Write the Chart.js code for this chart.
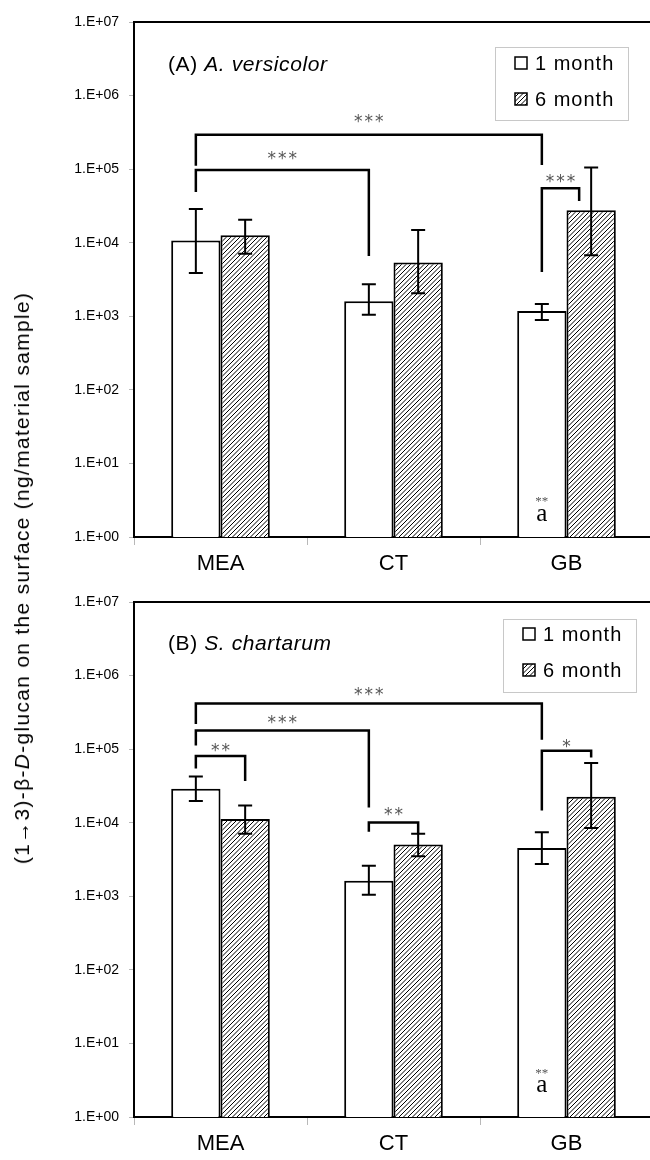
<!DOCTYPE html>
<html>
<head>
<meta charset="utf-8">
<script src="https://cdn.jsdelivr.net/npm/chart.js@4"></script>
<style>
  body { margin: 0; background: #fff; width: 650px; height: 1160px; overflow: hidden; position: relative; }
  .panel { position: absolute; left: 0; width: 656px; height: 580px; }
  #ytitle {
    position: absolute; left: 22px; top: 578px;
    transform: translate(-50%, -50%) rotate(-90deg);
    white-space: nowrap; font: 21px "Liberation Sans", Arial, sans-serif;
    letter-spacing: 1.3px; color: #000;
  }
</style>
</head>
<body>
<div class="panel" style="top:0"><canvas id="chartA" width="656" height="580"></canvas></div>
<div class="panel" style="top:580px"><canvas id="chartB" width="656" height="580"></canvas></div>
<div id="ytitle">(1→3)-β-<i>D</i>-glucan on the surface (ng/material sample)</div>

<script>
const categories = ['MEA', 'CT', 'GB'];
const seriesNames = ['1 month', '6 month'];
const yTicks = [1, 10, 100, 1e3, 1e4, 1e5, 1e6, 1e7];
const yTickLabels = ['1.E+00', '1.E+01', '1.E+02', '1.E+03', '1.E+04', '1.E+05', '1.E+06', '1.E+07'];

// (A) A. versicolor
const aMonth1 = [10700, 1600, 1180];
const aMonth6 = [12600, 5400, 27600];
const aMonth1Low = [3870, 1050, 890];
const aMonth1High = [28700, 2720, 1470];
const aMonth6Low = [7100, 2050, 6750];
const aMonth6High = [20500, 14900, 105000];

// (B) S. chartarum
const bMonth1 = [29000, 1630, 4540];
const bMonth6 = [11200, 5040, 22600];
const bMonth1Low = [19700, 1050, 2750];
const bMonth1High = [42600, 2610, 7400];
const bMonth6Low = [7100, 3490, 8500];
const bMonth6High = [17200, 7100, 64600];

// significance brackets: from/to = [category, series], y = bracket level, ends = leg ends
const aBrackets = [
  { from: [0, 0], to: [2, 0], y: 2.94e5, ends: [1.11e5, 1.14e5], text: '***', textY: 5.1e5 },
  { from: [0, 0], to: [1, 0], y: 9.7e4, ends: [4.9e4, 6.6e3], text: '***', textY: 1.6e5 },
  { from: [2, 0], to: [2, 1], y: 5.5e4, ends: [4.0e3, 3.7e4], text: '***', textY: 7.7e4, dx2: -12 }
];
const bBrackets = [
  { from: [0, 0], to: [2, 0], y: 4.17e5, ends: [2.2e5, 1.34e5], text: '***', textY: 6.4e5 },
  { from: [0, 0], to: [1, 0], y: 1.79e5, ends: [1.12e5, 1.61e4], text: '***', textY: 2.67e5 },
  { from: [0, 0], to: [0, 1], y: 8.05e4, ends: [5.46e4, 3.7e4], text: '**', textY: 1.12e5 },
  { from: [1, 0], to: [1, 1], y: 1.01e4, ends: [7.55e3, 6.9e3], text: '**', textY: 1.47e4 },
  { from: [2, 0], to: [2, 1], y: 9.5e4, ends: [1.46e4, 7.7e4], text: '*', textY: 1.25e5 }
];

Chart.defaults.font.family = '"Liberation Sans", Arial, sans-serif';
Chart.defaults.color = '#000';

function makeHatch() {
  const c = document.createElement('canvas');
  c.width = 9; c.height = 9;
  const g = c.getContext('2d');
  g.fillStyle = '#fff';
  g.fillRect(0, 0, 9, 9);
  g.strokeStyle = '#000';
  g.lineWidth = 1;
  g.beginPath();
  for (const o of [-9, -4.5, 0, 4.5, 9]) { g.moveTo(o, 9); g.lineTo(o + 9, 0); }
  g.stroke();
  return g.createPattern(c, 'repeat');
}
const hatch = makeHatch();

const decor = {
  id: 'decor',
  afterDatasetsDraw(chart, args, opts) {
    const ctx = chart.ctx, ys = chart.scales.y, area = chart.chartArea;
    const barX = (p) => chart.getDatasetMeta(p[1]).data[p[0]].x;
    ctx.save();

    // top frame line
    ctx.strokeStyle = '#000';
    ctx.lineWidth = 2;
    ctx.beginPath();
    ctx.moveTo(area.left - 1, area.top);
    ctx.lineTo(area.right, area.top);
    ctx.stroke();

    // error bars
    opts.errors.forEach((pair, s) => {
      const meta = chart.getDatasetMeta(s);
      pair[0].forEach((lo, i) => {
        const x = meta.data[i].x;
        const y1 = ys.getPixelForValue(lo), y2 = ys.getPixelForValue(pair[1][i]);
        ctx.lineWidth = 2;
        ctx.beginPath();
        ctx.moveTo(x, y1); ctx.lineTo(x, y2);
        ctx.moveTo(x - 7, y1); ctx.lineTo(x + 7, y1);
        ctx.moveTo(x - 7, y2); ctx.lineTo(x + 7, y2);
        ctx.stroke();
      });
    });

    // brackets
    ctx.lineWidth = 2.5;
    ctx.lineJoin = 'miter';
    opts.brackets.forEach(b => {
      const x1 = barX(b.from) + (b.dx1 || 0), x2 = barX(b.to) + (b.dx2 || 0);
      const yl = ys.getPixelForValue(b.y);
      ctx.beginPath();
      ctx.moveTo(x1, ys.getPixelForValue(b.ends[0]));
      ctx.lineTo(x1, yl);
      ctx.lineTo(x2, yl);
      ctx.lineTo(x2, ys.getPixelForValue(b.ends[1]));
      ctx.stroke();
      ctx.fillStyle = '#555';
      ctx.font = '17px "DejaVu Sans"';
      ctx.letterSpacing = '2px';
      ctx.textAlign = 'center';
      ctx.textBaseline = 'alphabetic';
      ctx.fillText(b.text, (x1 + x2) / 2 + 1, ys.getPixelForValue(b.textY) + 10);
    });
    ctx.letterSpacing = '0px';

    // "a" note on GB 1 month
    const n = opts.note;
    const nx = barX([n.cat, n.series]);
    ctx.textAlign = 'center';
    ctx.textBaseline = 'middle';
    ctx.fillStyle = '#555';
    ctx.font = '13px "Liberation Serif"';
    ctx.fillText('**', nx, ys.getPixelForValue(n.starY) + 3);
    ctx.fillStyle = '#000';
    ctx.font = '25px "Liberation Serif"';
    ctx.fillText('a', nx, ys.getPixelForValue(n.y));

    // panel title
    const t = opts.title;
    ctx.textAlign = 'left';
    ctx.letterSpacing = '0.6px';
    ctx.font = '21px "Liberation Sans"';
    ctx.fillText(t.text[0], t.x, t.y);
    const w = ctx.measureText(t.text[0]).width;
    ctx.font = 'italic 21px "Liberation Sans"';
    ctx.fillText(t.text[1], t.x + w, t.y);

    // legend box
    const L = opts.legend;
    ctx.strokeStyle = '#c8c8c8';
    ctx.lineWidth = 1;
    ctx.strokeRect(L.x + 0.5, L.y + 0.5, L.w, L.h);
    ctx.font = '20px "Liberation Sans"';
    ctx.letterSpacing = '1px';
    seriesNames.forEach((name, s) => {
      const ry = L.rows[s];
      ctx.fillStyle = chart.data.datasets[s].backgroundColor;
      ctx.fillRect(L.sx, ry - 6, 12, 12);
      ctx.strokeStyle = '#000';
      ctx.lineWidth = 1.5;
      ctx.strokeRect(L.sx, ry - 6, 12, 12);
      ctx.fillStyle = '#000';
      ctx.fillText(name, L.tx, ry + 1);
    });
    ctx.restore();
  }
};

function makeChart(id, m1, m6, errors, brackets, decorOpts) {
  return new Chart(document.getElementById(id), {
    type: 'bar',
    data: {
      labels: categories,
      datasets: [
        { label: seriesNames[0], data: m1, backgroundColor: '#fff', borderColor: '#000', borderWidth: 2 },
        { label: seriesNames[1], data: m6, backgroundColor: hatch, borderColor: '#000', borderWidth: 2 }
      ]
    },
    options: {
      responsive: false,
      animation: false,
      events: [],
      categoryPercentage: 0.57,
      barPercentage: 1,
      layout: { padding: { top: 22, right: 3, bottom: 0, left: 0 } },
      plugins: {
        legend: { display: false },
        tooltip: { enabled: false },
        decor: Object.assign({ errors: errors, brackets: brackets }, decorOpts)
      },
      scales: {
        x: {
          offset: true,
          grid: { offset: true, drawOnChartArea: false, tickLength: 8, color: '#b8b8b8' },
          border: { color: '#000', width: 2 },
          ticks: { font: { size: 22 }, padding: 6 },
          afterFit: s => { s.height = 43; }
        },
        y: {
          type: 'logarithmic',
          min: 1,
          max: 1e7,
          afterBuildTicks: s => { s.ticks = yTicks.map(v => ({ value: v })); },
          grid: { drawOnChartArea: false, tickLength: 5, color: '#b8b8b8' },
          border: { color: '#000', width: 2 },
          ticks: { font: { size: 14 }, padding: 10, callback: (v, i) => yTickLabels[i] },
          afterFit: s => { s.width = 134; }
        }
      }
    },
    plugins: [decor]
  });
}

makeChart('chartA', aMonth1, aMonth6,
  [[aMonth1Low, aMonth1High], [aMonth6Low, aMonth6High]], aBrackets,
  {
    note: { cat: 2, series: 0, y: 2.0, starY: 3.3 },
    title: { text: ['(A) ', 'A. versicolor'], x: 168, y: 65 },
    legend: { x: 495, y: 47, w: 133, h: 73, rows: [63, 99], sx: 515, tx: 535 }
  });

makeChart('chartB', bMonth1, bMonth6,
  [[bMonth1Low, bMonth1High], [bMonth6Low, bMonth6High]], bBrackets,
  {
    note: { cat: 2, series: 0, y: 2.7, starY: 4.3 },
    title: { text: ['(B) ', 'S. chartarum'], x: 168, y: 64 },
    legend: { x: 503, y: 39, w: 133, h: 73, rows: [54, 90], sx: 523, tx: 543 }
  });
</script>
</body>
</html>
